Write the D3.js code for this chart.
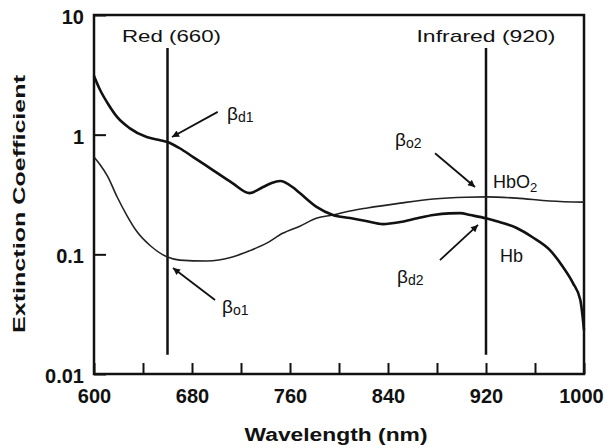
<!DOCTYPE html>
<html>
<head>
<meta charset="utf-8">
<script src="https://cdn.jsdelivr.net/npm/d3@7"></script>
<style>
  html, body { margin: 0; padding: 0; background: #fff; }
  svg { display: block; }
  text { font-family: "Liberation Sans", Arial, Helvetica, sans-serif; fill: #111; }
</style>
</head>
<body>
<svg id="chart" width="607" height="448"></svg>
<script>
// ---- data ----
const hbWavelength = [600,605,611,619,629,643,654,660,670,681,697,713,727,738,745,752,762,768,782,795,809,822,836,850,864,877,890,899,907,920,931,945,958,972,983,991,997,1000];
const hbValue      = [3.1,2.36,1.84,1.40,1.135,0.955,0.9,0.87,0.77,0.65,0.506,0.394,0.325,0.365,0.395,0.41,0.365,0.325,0.248,0.213,0.201,0.19,0.179,0.186,0.2,0.213,0.22,0.221,0.213,0.2,0.186,0.166,0.139,0.109,0.078,0.0575,0.0415,0.0233];
const hbo2Wavelength = [600,605,611,619,627,635,646,660,670,692,713,727,741,754,768,782,795,809,823,850,877,904,920,945,972,1000];
const hbo2Value      = [0.65,0.56,0.45,0.30,0.21,0.155,0.118,0.095,0.0895,0.088,0.095,0.107,0.124,0.15,0.172,0.201,0.213,0.23,0.244,0.268,0.29,0.3,0.302,0.295,0.279,0.273];

const xTicks = [600,640,680,720,760,800,840,880,920,960,1000];
const xTickLabels = ["600","","680","","760","","840","","920","","1000"];
const yTicks = [10,1,0.1,0.01];
const yTickLabels = ["10","1","0.1","0.01"];

const sourceLines = [660, 920];
const sourceLabels = ["Red (660)", "Infrared (920)"];
const sourceLineRange = [0.0145, 5.3];
const sourceLabelValue = 5.9;

const betaSubs   = ["d1", "o1", "o2", "d2"];
const betaPos    = [[708.6,1.32],[704.5,0.0324],[845.7,0.80],[847.3,0.0575]];
const arrowFrom  = [[701,1.55],[698.8,0.0415],[878.4,0.70],[882.4,0.0895]];
const arrowTo    = [[663.7,0.955],[664.5,0.0769],[911,0.365],[913.5,0.176]];

const curveLabels = ["HbO", "Hb"];
const curveLabelPos = [[925.7,0.358],[931.4,0.0863]];

// ---- layout ----
const svg = d3.select("#chart");
const L = 94, R = 584, T = 15, B = 374;
const x = d3.scaleLinear().domain([600,1000]).range([L,R]);
const y = d3.scaleLog().domain([0.01,10]).range([B,T]);

const defs = svg.append("defs");
defs.append("marker").attr("id","arr").attr("viewBox","0 0 10 10")
  .attr("refX",10).attr("refY",5).attr("markerWidth",9).attr("markerHeight",7)
  .attr("markerUnits","userSpaceOnUse").attr("orient","auto")
  .append("path").attr("d","M0,0 L10,5 L0,10 z").attr("fill","#111");

// axes
const xAxis = d3.axisBottom(x).tickValues(xTicks)
  .tickFormat((d,i)=>xTickLabels[i]).tickSizeInner(-11).tickSizeOuter(0).tickPadding(15);
const gx = svg.append("g").attr("transform",`translate(0,${B})`).call(xAxis);
gx.select(".domain").remove();
gx.selectAll("line").attr("stroke","#111").attr("stroke-width",2);
gx.selectAll("text").attr("font-size",20).attr("font-weight","bold").attr("fill","#111")
  .attr("dx",(d,i)=> i===xTicks.length-1 ? -3 : 0);

const yAxis = d3.axisLeft(y).tickValues(yTicks)
  .tickFormat((d,i)=>yTickLabels[i]).tickSizeInner(-12).tickSizeOuter(0).tickPadding(10);
const gy = svg.append("g").attr("transform",`translate(${L},0)`).call(yAxis);
gy.select(".domain").remove();
gy.selectAll("line").attr("stroke","#111").attr("stroke-width",2);
gy.selectAll("text").attr("font-size",20).attr("font-weight","bold").attr("dy","0.42em").attr("fill","#111");

// frame
svg.append("rect").attr("x",L).attr("y",T).attr("width",R-L).attr("height",B-T)
  .attr("fill","none").attr("stroke","#111").attr("stroke-width",2.5);

// axis titles
svg.append("text").attr("x",(L+R)/2-3).attr("y",441).attr("text-anchor","middle")
  .attr("font-size",18).attr("font-weight","bold")
  .attr("textLength",183).attr("lengthAdjust","spacingAndGlyphs").text("Wavelength (nm)");
svg.append("text").attr("transform","translate(25,204) rotate(-90)").attr("text-anchor","middle")
  .attr("font-size",17).attr("font-weight","bold")
  .attr("textLength",258).attr("lengthAdjust","spacingAndGlyphs").text("Extinction Coefficient");

// source lines
sourceLines.forEach((wl,i)=>{
  svg.append("line").attr("x1",x(wl)).attr("x2",x(wl))
    .attr("y1",y(sourceLineRange[0])).attr("y2",y(sourceLineRange[1]))
    .attr("stroke","#111").attr("stroke-width",2.5);
  svg.append("text").attr("x",x(wl)+ (i===0?4:0)).attr("y",y(sourceLabelValue))
    .attr("text-anchor","middle").attr("font-size",17)
    .attr("textLength", i===0?99:139).attr("lengthAdjust","spacingAndGlyphs")
    .text(sourceLabels[i]);
});

// curves
const line = d3.line().x(d=>x(d[0])).y(d=>y(d[1])).curve(d3.curveMonotoneX);
const hb = hbWavelength.map((w,i)=>[w,hbValue[i]]);
const hbo2 = hbo2Wavelength.map((w,i)=>[w,hbo2Value[i]]);
svg.append("path").datum(hbo2).attr("d",line).attr("fill","none")
  .attr("stroke","#222").attr("stroke-width",1.6);
svg.append("path").datum(hb).attr("d",line).attr("fill","none")
  .attr("stroke","#111").attr("stroke-width",2.6);

// beta annotations
betaSubs.forEach((s,i)=>{
  const t = svg.append("text").attr("x",x(betaPos[i][0])).attr("y",y(betaPos[i][1]))
    .attr("font-size",19);
  t.append("tspan").text("β");
  t.append("tspan").attr("font-size",14).attr("dy",2).text(s);
  svg.append("line").attr("x1",x(arrowFrom[i][0])).attr("y1",y(arrowFrom[i][1]))
    .attr("x2",x(arrowTo[i][0])).attr("y2",y(arrowTo[i][1]))
    .attr("stroke","#111").attr("stroke-width",1.8).attr("marker-end","url(#arr)");
});

// curve labels
curveLabels.forEach((c,i)=>{
  const t = svg.append("text").attr("x",x(curveLabelPos[i][0])).attr("y",y(curveLabelPos[i][1]))
    .attr("font-size",18);
  t.append("tspan").text(c);
  if (i===0) t.append("tspan").attr("font-size",13).attr("dy",4).text("2");
});
</script>
</body>
</html>
